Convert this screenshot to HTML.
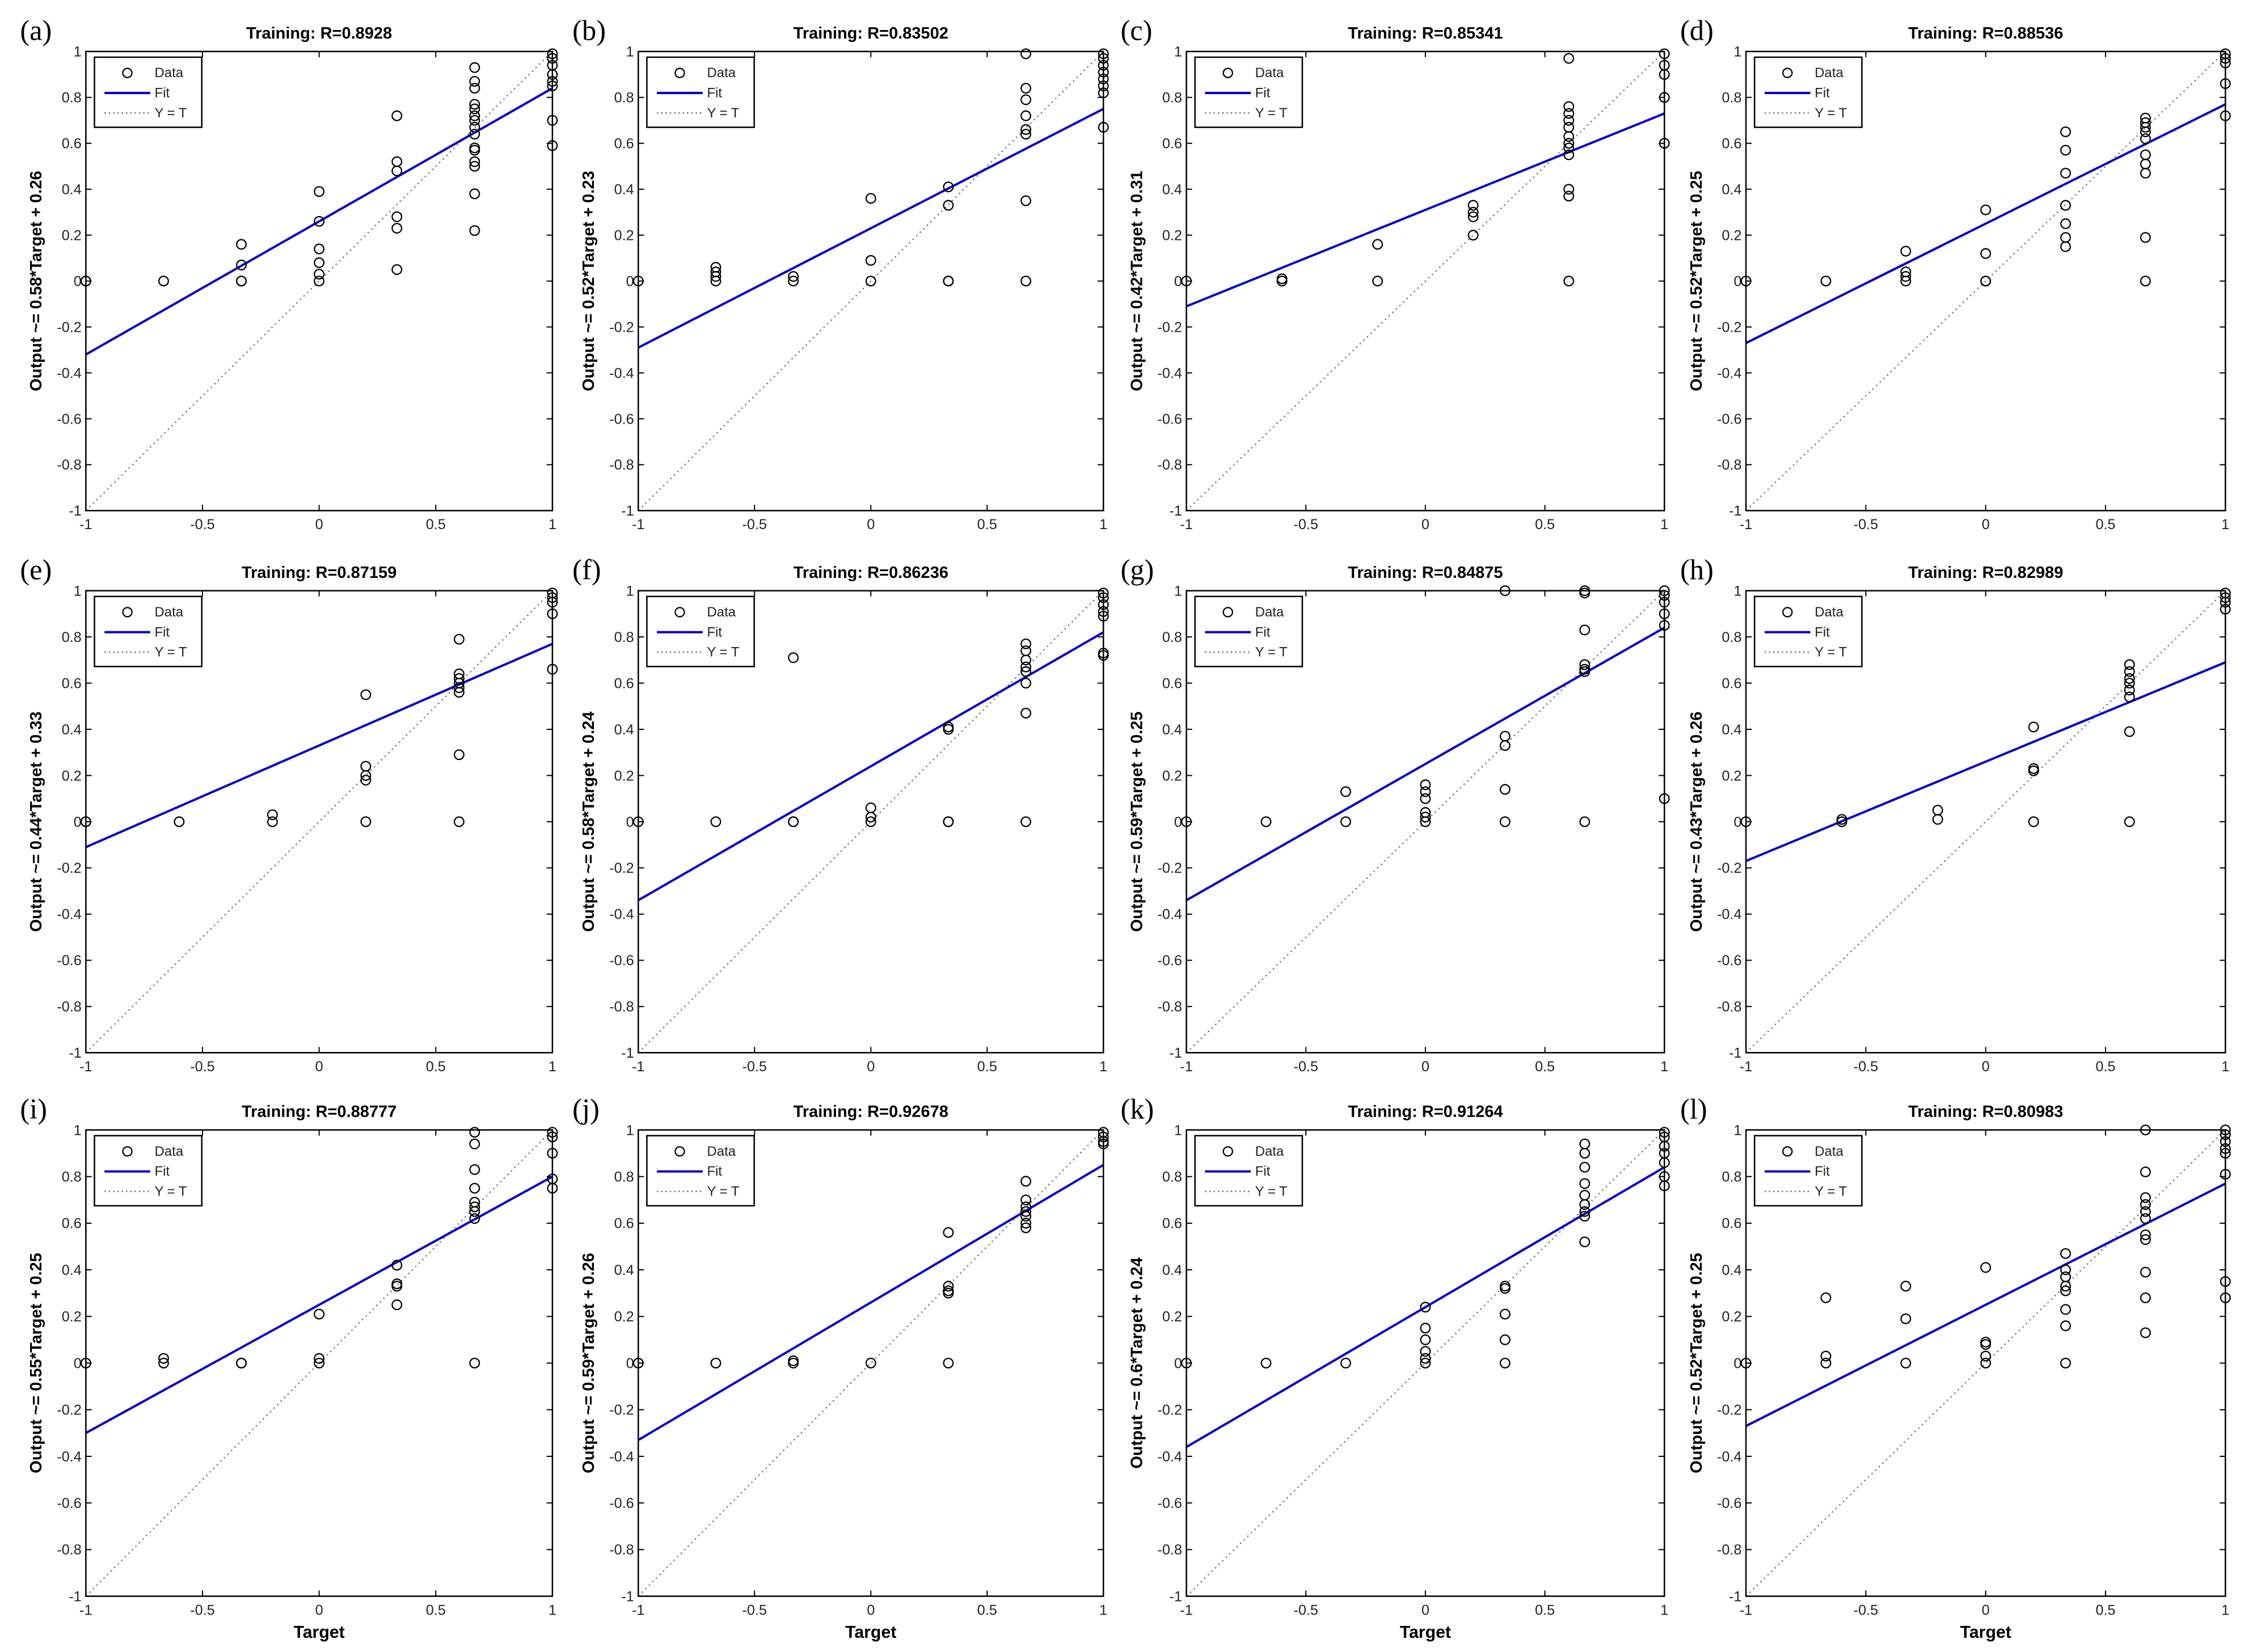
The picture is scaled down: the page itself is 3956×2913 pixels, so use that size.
<!DOCTYPE html>
<html><head><meta charset="utf-8"><style>
html,body{margin:0;padding:0;background:#fff}
svg{display:block}
</style></head><body>
<svg id="fig" xmlns="http://www.w3.org/2000/svg" width="3956" height="2913" viewBox="0 0 1568 1155" preserveAspectRatio="none">
<rect x="0" y="0" width="1568" height="1155" fill="#fff"/>
</svg>
<script>
const panelLabels = ['(a)','(b)','(c)','(d)','(e)','(f)','(g)','(h)','(i)','(j)','(k)','(l)'];
const rValues = ['0.8928','0.83502','0.85341','0.88536','0.87159','0.86236','0.84875','0.82989','0.88777','0.92678','0.91264','0.80983'];
const slopes = [0.58,0.52,0.42,0.52,0.44,0.58,0.59,0.43,0.55,0.59,0.6,0.52];
const intercepts = [0.26,0.23,0.31,0.25,0.33,0.24,0.25,0.26,0.25,0.26,0.24,0.25];
const xTicks = [-1,-0.5,0,0.5,1];
const yTicks = [-1,-0.8,-0.6,-0.4,-0.2,0,0.2,0.4,0.6,0.8,1];
const T = 1/3, S = 2/3;
// data: [target, [outputs...]]
const dataA = [[-1,[0,0]],[-S,[0]],[-T,[0.16,0.07,0,0]],[0,[0.39,0.26,0.14,0.08,0.03,0]],[T,[0.72,0.52,0.48,0.28,0.23,0.05]],[S,[0.93,0.87,0.84,0.77,0.75,0.72,0.7,0.67,0.64,0.58,0.57,0.52,0.5,0.38,0.22]],[1,[0.99,0.97,0.94,0.9,0.87,0.85,0.7,0.59]]];
const dataB = [[-1,[0]],[-S,[0.06,0.04,0.02,0]],[-T,[0.02,0]],[0,[0.36,0.09,0]],[T,[0.41,0.33,0,0]],[S,[0.99,0.84,0.79,0.72,0.66,0.64,0.35,0]],[1,[0.99,0.97,0.94,0.91,0.88,0.85,0.82,0.67]]];
const dataC = [[-1,[0]],[-0.6,[0,0.01]],[-0.2,[0.16,0]],[0.2,[0.33,0.3,0.28,0.2]],[0.6,[0.97,0.76,0.73,0.7,0.67,0.63,0.6,0.58,0.55,0.4,0.37,0]],[1,[0.99,0.94,0.9,0.8,0.6]]];
const dataD = [[-1,[0]],[-S,[0]],[-T,[0.13,0.04,0.02,0]],[0,[0.31,0.12,0,0]],[T,[0.65,0.57,0.47,0.33,0.25,0.19,0.15]],[S,[0.71,0.69,0.67,0.65,0.62,0.55,0.51,0.47,0.19,0]],[1,[0.99,0.97,0.95,0.86,0.72]]];
const dataE = [[-1,[0,0]],[-0.6,[0]],[-0.2,[0.03,0]],[0.2,[0.55,0.24,0.2,0.18,0]],[0.6,[0.79,0.64,0.62,0.6,0.58,0.56,0.29,0]],[1,[0.99,0.97,0.95,0.9,0.66]]];
const dataF = [[-1,[0]],[-S,[0]],[-T,[0.71,0,0]],[0,[0.06,0.02,0]],[T,[0.41,0.4,0,0]],[S,[0.77,0.74,0.7,0.67,0.65,0.6,0.47,0]],[1,[0.99,0.97,0.94,0.91,0.89,0.73,0.72]]];
const dataG = [[-1,[0]],[-S,[0]],[-T,[0.13,0]],[0,[0.16,0.13,0.1,0.04,0.02,0]],[T,[1.0,0.37,0.33,0.14,0]],[S,[1.0,0.99,0.83,0.68,0.66,0.65,0]],[1,[1.0,0.98,0.95,0.9,0.85,0.1]]];
const dataH = [[-1,[0]],[-0.6,[0.01,0]],[-0.2,[0.05,0.01]],[0.2,[0.41,0.23,0.22,0]],[0.6,[0.68,0.65,0.62,0.6,0.57,0.54,0.39,0]],[1,[0.99,0.97,0.95,0.92]]];
const dataI = [[-1,[0]],[-S,[0.02,0]],[-T,[0,0]],[0,[0.21,0.02,0]],[T,[0.42,0.34,0.33,0.25]],[S,[0.99,0.94,0.83,0.75,0.69,0.67,0.65,0.62,0]],[1,[0.99,0.97,0.9,0.79,0.75]]];
const dataJ = [[-1,[0]],[-S,[0]],[-T,[0.01,0]],[0,[0]],[T,[0.56,0.33,0.31,0.3,0]],[S,[0.78,0.7,0.67,0.65,0.63,0.6,0.58]],[1,[0.99,0.97,0.95,0.94]]];
const dataK = [[-1,[0]],[-S,[0]],[-T,[0]],[0,[0.24,0.15,0.1,0.05,0.02,0]],[T,[0.33,0.32,0.21,0.1,0]],[S,[0.94,0.9,0.84,0.77,0.72,0.68,0.65,0.63,0.52]],[1,[0.99,0.97,0.93,0.9,0.86,0.8,0.76]]];
const dataL = [[-1,[0]],[-S,[0.28,0.03,0]],[-T,[0.33,0.19,0]],[0,[0.41,0.09,0.08,0.03,0]],[T,[0.47,0.4,0.37,0.33,0.31,0.23,0.16,0]],[S,[1.0,0.82,0.71,0.68,0.65,0.62,0.55,0.53,0.39,0.28,0.13]],[1,[1.0,0.98,0.95,0.92,0.9,0.81,0.35,0.28]]];
const allData = [dataA,dataB,dataC,dataD,dataE,dataF,dataG,dataH,dataI,dataJ,dataK,dataL];

const svg = document.getElementById('fig');
const NS = 'http://www.w3.org/2000/svg';
function mk(tag, attrs, parent){const e=document.createElementNS(NS,tag);for(const k in attrs)e.setAttribute(k,attrs[k]);(parent||svg).appendChild(e);return e;}
const colX = [[60,386],[446,771],[829,1163],[1220,1555]];
const rowY = [[36,357],[413,736],[790,1116]];
const FONT = '"Liberation Sans", Arial, sans-serif';

allData.forEach((data, i) => {
  const r = Math.floor(i/4), c = i%4;
  const [x0,x1] = colX[c], [y0,y1] = rowY[r];
  const sx = v => x0 + (v+1)/2*(x1-x0);
  const sy = v => y1 - (v+1)/2*(y1-y0);
  const g = mk('g',{});
  
  
  // clip
  const cp = mk('clipPath',{id:'cp'+i},g); mk('rect',{x:x0,y:y0,width:x1-x0,height:y1-y0},cp);
  // panel label
  const pl = mk('text',{x:c===0?14:x0-46,y:y0-8,'font-family':'"Liberation Serif", serif','font-size':20,fill:'#000'},g);
  pl.textContent = panelLabels[i];
  
  
  // title
  const tt = mk('text',{x:(x0+x1)/2,y:y0-9,'font-family':FONT,'font-size':11.5,'font-weight':'bold','text-anchor':'middle',fill:'#000'},g);
  tt.textContent = 'Training: R='+rValues[i];
  
  
  // ticks
  xTicks.forEach(v=>{
    const x=sx(v);
    mk('line',{x1:x,x2:x,y1:y1,y2:y1-4,stroke:'#000','stroke-width':0.8},g);
    mk('line',{x1:x,x2:x,y1:y0,y2:y0+4,stroke:'#000','stroke-width':0.8},g);
    const t=mk('text',{x:x,y:y1+13,'font-family':FONT,'font-size':10,'text-anchor':'middle',fill:'#222'},g);
    t.textContent=String(v);
    
    
  });
  yTicks.forEach(v=>{
    const y=sy(v);
    mk('line',{x1:x0,x2:x0+4,y1:y,y2:y,stroke:'#000','stroke-width':0.8},g);
    mk('line',{x1:x1,x2:x1-4,y1:y,y2:y,stroke:'#000','stroke-width':0.8},g);
    const t=mk('text',{x:x0-3,y:y+3.5,'font-family':FONT,'font-size':10,'text-anchor':'end',fill:'#222'},g);
    t.textContent=String(Math.round(v*10)/10);
    
    
  });
  // y label
  const yl = mk('text',{x:0,y:0,transform:`translate(${x0-31},${(y0+y1)/2}) rotate(-90)`,'font-family':FONT,'font-size':11.5,'font-weight':'bold','text-anchor':'middle',fill:'#000'},g);
  yl.textContent = 'Output ~= '+slopes[i]+'*Target + '+intercepts[i];
  
  
  if(r===2){
    const xl=mk('text',{x:(x0+x1)/2,y:y1+29,'font-family':FONT,'font-size':12,'font-weight':'bold','text-anchor':'middle',fill:'#000'},g);
    xl.textContent='Target';
    
    
  }
  const pg = mk('g',{'clip-path':`url(#cp${i})`},g);
  // Y=T
  const yt = mk('line',{x1:sx(-1),y1:sy(-1),x2:sx(1),y2:sy(1),stroke:'#777','stroke-width':1,'stroke-dasharray':'1 2.5'},pg);
  
  
  // fit
  const fl = mk('line',{x1:sx(-1),y1:sy(-slopes[i]+intercepts[i]),x2:sx(1),y2:sy(slopes[i]+intercepts[i]),stroke:'#0000cc','stroke-width':1.6},pg);
  
  
  // points
  data.forEach(([t,outs])=>outs.forEach(o=>{
    const p=mk('circle',{cx:sx(t),cy:sy(o),r:3.3,fill:'none',stroke:'#000','stroke-width':0.9},g);
    
    
  }));
  // frame
  mk('rect',{x:x0,y:y0,width:x1-x0,height:y1-y0,fill:'none',stroke:'#000','stroke-width':1},g);
  // legend
  const lg = mk('g',{},g);
  
  
  const lx=x0+6, ly=y0+4;
  mk('rect',{x:lx,y:ly,width:75,height:49,fill:'#fff',stroke:'#000','stroke-width':1},lg);
  mk('circle',{cx:lx+23,cy:ly+11,r:3.2,fill:'none',stroke:'#000','stroke-width':0.9},lg);
  mk('line',{x1:lx+7,x2:lx+39,y1:ly+25,y2:ly+25,stroke:'#0000cc','stroke-width':1.6},lg);
  mk('line',{x1:lx+7,x2:lx+39,y1:ly+39,y2:ly+39,stroke:'#777','stroke-width':1,'stroke-dasharray':'1 2'},lg);
  [['Data',ly+14],['Fit',ly+28],['Y = T',ly+42]].forEach(([s,y])=>{
    const t=mk('text',{x:lx+42,y:y,'font-family':FONT,'font-size':9.5,fill:'#222'},lg);
    t.textContent=s;
    
    
  });
});
</script>
</body></html>
